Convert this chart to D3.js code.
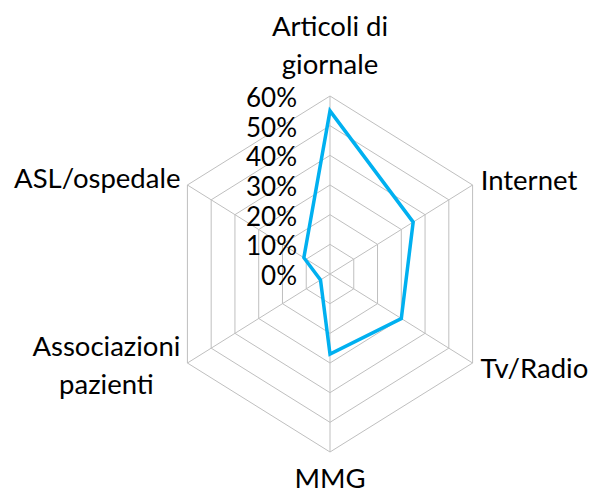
<!DOCTYPE html>
<html><head><meta charset="utf-8">
<script src="https://cdn.jsdelivr.net/npm/d3@7"></script>
<style>
html,body{margin:0;padding:0;background:#fff;}
svg{display:block;}
text{font-family:Lato,"Open Sans",sans-serif;fill:#000;}
</style></head><body>
<svg id="chart" width="591" height="493"></svg>
<script>
const categories = [["Articoli di","giornale"],["Internet"],["Tv/Radio"],["MMG"],["Associazioni","pazienti"],["ASL/ospedale"]];
const values = [0.55, 0.35, 0.30, 0.27, 0.04, 0.11];
const tickValues = [0,0.1,0.2,0.3,0.4,0.5,0.6];
const tickLabels = ["0%","10%","20%","30%","40%","50%","60%"];

const W=591,H=493;
const cx=330, cy=274, R=178, sx=0.925;
const svg=d3.select("#chart");
const r=d3.scaleLinear().domain([0,0.6]).range([0,R]);
const n=categories.length;
const ang=d3.scaleLinear().domain([0,n]).range([0,2*Math.PI]);
function pt(i,v){const a=ang(i);return [cx+sx*r(v)*Math.sin(a), cy-r(v)*Math.cos(a)];}

const grid=svg.append("g");
tickValues.slice(1).forEach(t=>{
  grid.append("polygon")
    .attr("points", d3.range(n).map(i=>pt(i,t).join(",")).join(" "))
    .attr("fill","none").attr("stroke","#bfbfbf").attr("stroke-width",1);
});
d3.range(n).forEach(i=>{
  const p=pt(i,0.6);
  grid.append("line").attr("x1",cx).attr("y1",cy).attr("x2",p[0]).attr("y2",p[1])
    .attr("stroke","#bfbfbf").attr("stroke-width",1);
});
const line=d3.line().curve(d3.curveLinearClosed);
svg.append("path").attr("d",line(values.map((v,i)=>pt(i,v))))
  .attr("fill","none").attr("stroke","#00b0f0").attr("stroke-width",3.5).attr("stroke-linejoin","miter");

svg.append("g").selectAll("text").data(tickValues).join("text")
  .attr("x",297).attr("y",d=>cy-r(d)+1)
  .attr("dominant-baseline","central").attr("text-anchor","end")
  .attr("font-size",26).text((d,i)=>tickLabels[i]);

const lh=38, fs=27.5;
categories.forEach((lines,i)=>{
  const p=pt(i,0.6);
  const a=ang(i);
  const g=svg.append("g");
  const t=g.append("text").attr("font-size",fs).attr("text-anchor","middle");
  lines.forEach((l,j)=>t.append("tspan").attr("x",0).attr("y",j*lh).text(l));
  const bb=t.node().getBBox();
  const s=Math.sin(a), c=Math.cos(a);
  let tx,ty;
  if(Math.abs(s)<0.01){
    tx=p[0];
    if(c>0){ ty=p[1]-22-(lines.length-1)*lh; } else { ty=p[1]+36; }
  } else if(s>0){
    tx=p[0]+8+bb.width/2;
    ty = (c>0? p[1]+5 : p[1]+15);
  } else {
    tx=p[0]-7-bb.width/2;
    ty = (c>0? p[1]+3 : p[1]-7);
  }
  g.attr("transform",`translate(${tx},${ty})`);
});
</script>
</body></html>
